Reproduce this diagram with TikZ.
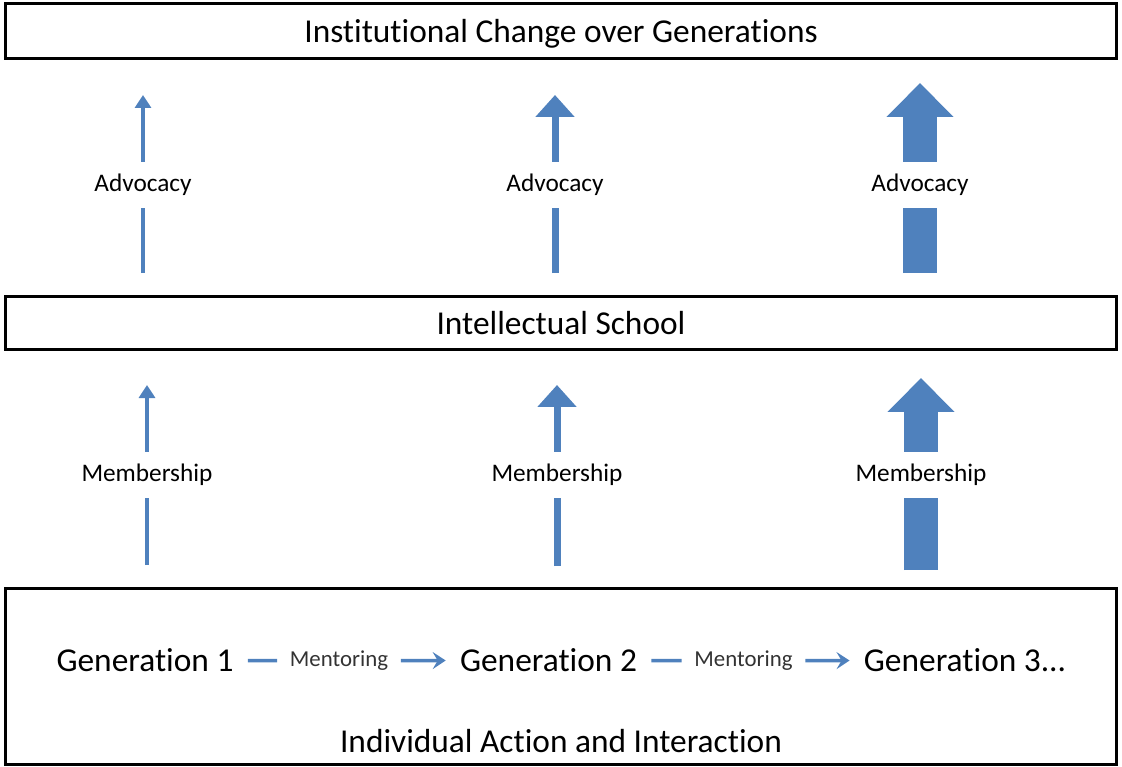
\documentclass[tikz,border=0pt]{standalone}
\usepackage{fontspec}
\setmainfont[Ligatures=NoCommon]{Carlito}
\usetikzlibrary{arrows.meta,positioning}
\definecolor{flowblue}{HTML}{4F81BD}
\tikzset{
  % outlined bands across the whole width
  band/.style={draw=black, line width=0.06cm, minimum width=22.24cm, inner sep=0pt,
    text depth=0pt, font=\fontsize{19}{23}\selectfont},
  bigtext/.style={font=\fontsize{19}{23}\selectfont, inner sep=0pt},
  % labels sitting in the gap of an arrow
  gaplab/.style={font=\fontsize{14.4}{17}\selectfont, minimum height=0.92cm, inner sep=0pt},
  gen/.style={font=\fontsize{19}{23}\selectfont, inner ysep=0pt, inner xsep=0.28cm},
  ment/.style={font=\fontsize{13}{16}\selectfont, text=black!80, inner ysep=0pt, inner xsep=0.25cm},
  % arrow shafts, thin to thick
  thinup/.style={flowblue, line width=0.07cm},
  midup/.style={flowblue, line width=0.14cm},
  fatup/.style={flowblue, line width=0.68cm},
  thinhead/.style={thinup, -{Triangle[width=0.32cm, length=0.26cm]}},
  midhead/.style={midup, -{Triangle[width=0.76cm, length=0.44cm]}},
  fathead/.style={fatup, -{Triangle[width=1.3cm, length=0.68cm]}},
  mentor/.style={flowblue, line width=0.07cm},
  mentorhead/.style={mentor, -{Stealth[length=0.26cm, width=0.34cm, inset=0.1cm]}},
}

\begin{document}
\begin{tikzpicture}[x=0.02cm, y=-0.02cm]
  \useasboundingbox (0,0) rectangle (1122,767);

  % the three levels
  \node[band, minimum height=1.1cm] (inst) at (561,31) {Institutional Change over Generations};
  \node[band, minimum height=1.08cm] (school) at (561,323) {Intellectual School};
  \node[band, minimum height=3.54cm] (indiv) at (561,676.5) {};
  \node[bigtext] (indivlab) at (561,741) {Individual Action and Interaction};

  % generations and mentoring
  \node[gen] (gen1) at (145,660) {Generation 1};
  \node[ment] (ment1) at (339,661) {Mentoring};
  \node[gen] (gen2) at (548.5,660) {Generation 2};
  \node[ment] (ment2) at (743.5,661) {Mentoring};
  \node[gen] (gen3) at (965,660) {Generation 3...};

  \draw[mentor] (gen1) -- (ment1);
  \draw[mentorhead] (ment1) -- (gen2);
  \draw[mentor] (gen2) -- (ment2);
  \draw[mentorhead] (ment2) -- (gen3);

  % membership arrows
  \node[gaplab] (mem1) at (147,475) {Membership};
  \node[gaplab] (mem2) at (557,475) {Membership};
  \node[gaplab] (mem3) at (921,475) {Membership};
  \coordinate (mem1b) at (147,565);
  \coordinate (mem1t) at (147,385);
  \coordinate (mem2b) at (557,566);
  \coordinate (mem2t) at (557,385);
  \coordinate (mem3b) at (921,570);
  \coordinate (mem3t) at (921,378);
  \draw[thinup] (mem1b) -- (mem1.south);
  \draw[thinhead] (mem1.north) -- (mem1t);
  \draw[midup] (mem2b) -- (mem2.south);
  \draw[midhead] (mem2.north) -- (mem2t);
  \draw[fatup] (mem3b) -- (mem3.south);
  \draw[fathead] (mem3.north) -- (mem3t);

  % advocacy arrows
  \node[gaplab] (adv1) at (143,185) {Advocacy};
  \node[gaplab] (adv2) at (555,185) {Advocacy};
  \node[gaplab] (adv3) at (920,185) {Advocacy};
  \coordinate (adv1b) at (143,273);
  \coordinate (adv1t) at (143,95);
  \coordinate (adv2b) at (555,273);
  \coordinate (adv2t) at (555,95);
  \coordinate (adv3b) at (920,273);
  \coordinate (adv3t) at (920,83);
  \draw[thinup] (adv1b) -- (adv1.south);
  \draw[thinhead] (adv1.north) -- (adv1t);
  \draw[midup] (adv2b) -- (adv2.south);
  \draw[midhead] (adv2.north) -- (adv2t);
  \draw[fatup] (adv3b) -- (adv3.south);
  \draw[fathead] (adv3.north) -- (adv3t);
\end{tikzpicture}
\end{document}
